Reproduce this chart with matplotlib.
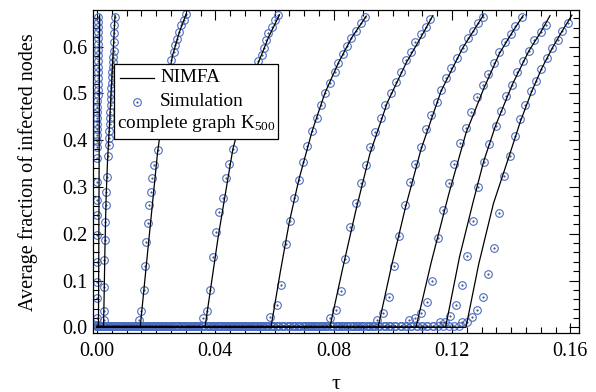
import matplotlib
matplotlib.use("Agg")
import matplotlib.pyplot as plt
import numpy as np
from matplotlib import rcParams
from matplotlib.patches import Rectangle
from matplotlib.lines import Line2D
from matplotlib.ticker import MultipleLocator

rcParams.update({
    "font.family": "serif",
    "font.serif": ["Liberation Serif"],
    "font.size": 14.5,
    "mathtext.fontset": "custom",
    "mathtext.rm": "Liberation Serif",
    "mathtext.it": "Liberation Serif:italic",
})

# NIMFA curves (tau, fraction), one list per curve
nimfa_tau = [
    [0, 0.0005, 0.0007, 0.0009],
    [0, 0.0022, 0.0024, 0.0027, 0.0031, 0.0036, 0.0042, 0.0050, 0.0061],
    [0, 0.0146, 0.0175, 0.0205, 0.0230, 0.0255, 0.0278, 0.0301],
    [0, 0.0365, 0.0410, 0.0459, 0.0500, 0.0545, 0.0580, 0.0617],
    [0, 0.0588, 0.0620, 0.0650, 0.0682, 0.0727, 0.0770, 0.0815, 0.0860, 0.0910],
    [0, 0.0787, 0.0830, 0.0875, 0.0922, 0.0981, 0.1045, 0.1095, 0.1135],
    [0, 0.0950, 0.0995, 0.1042, 0.1095, 0.1163, 0.1236, 0.1306],
    [0, 0.1078, 0.1130, 0.1189, 0.1247, 0.1307, 0.1360, 0.1400, 0.1440],
    [0, 0.1178, 0.1225, 0.1270, 0.1307, 0.1347, 0.1403, 0.1459, 0.1499, 0.1531],
    [0, 0.1247, 0.1290, 0.1340, 0.1395, 0.1431, 0.1468, 0.1502, 0.1538, 0.1572, 0.1605],
]
nimfa_y = [
    [0, 0, 0.30, 0.667],
    [0, 0, 0.06, 0.17, 0.28, 0.36, 0.43, 0.53, 0.667],
    [0, 0, 0.185, 0.375, 0.49, 0.58, 0.63, 0.669],
    [0, 0, 0.195, 0.38, 0.48, 0.565, 0.62, 0.668],
    [0, 0, 0.12, 0.225, 0.315, 0.419, 0.500, 0.564, 0.618, 0.665],
    [0, 0, 0.125, 0.25, 0.37, 0.48, 0.565, 0.62, 0.666],
    [0, 0, 0.13, 0.255, 0.38, 0.505, 0.597, 0.667],
    [0, 0, 0.14, 0.285, 0.415, 0.51, 0.585, 0.627, 0.666],
    [0, 0, 0.15, 0.265, 0.355, 0.431, 0.518, 0.590, 0.630, 0.666],
    [0, 0, 0.135, 0.265, 0.37, 0.44, 0.502, 0.552, 0.596, 0.633, 0.667],
]

# simulation points above the flat part
sim_tau = [
    [0.0000, 0.0000, 0.0000, 0.0001, 0.0001, 0.0001, 0.0001, 0.0001, 0.0001, 0.0001, 0.0001,
     0.0001, 0.0001, 0.0001, 0.0001, 0.0001, 0.0001, 0.0001, 0.0001, 0.0002, 0.0002, 0.0002,
     0.0002, 0.0002, 0.0002, 0.0002, 0.0002, 0.0003, 0.0003, 0.0003, 0.0003, 0.0003, 0.0003, 0.0003],
    [0.00225, 0.00225, 0.00237, 0.00248, 0.00259, 0.00282, 0.00304, 0.00315, 0.00338, 0.00372, 0.00394,
     0.0041, 0.0042, 0.0043, 0.0044, 0.0045, 0.0046, 0.0047, 0.0048, 0.0049, 0.0050,
     0.0051, 0.0052, 0.0053, 0.0054, 0.0055, 0.0056, 0.0057, 0.0058, 0.0059, 0.0060],
    [0.0141, 0.0150, 0.0158, 0.0161, 0.0166, 0.0171, 0.0177, 0.0181, 0.0187, 0.0192, 0.0205,
     0.0213, 0.0221, 0.0229, 0.0237, 0.0244,
     0.0251, 0.0259, 0.0265, 0.0270, 0.0278, 0.0285, 0.0293, 0.0301],
    [0.0359, 0.0371, 0.0382, 0.0391, 0.0402, 0.0413, 0.0425, 0.0436, 0.0447, 0.0459,
     0.0470, 0.0481, 0.0492, 0.0503, 0.0514, 0.0525, 0.0535,
     0.0545, 0.0557, 0.0565, 0.0571, 0.0579, 0.0591, 0.0602, 0.0613],
    [0.0585, 0.0610, 0.0621, 0.0638, 0.0651, 0.0666, 0.0682, 0.0696, 0.0711, 0.0727, 0.0744,
     0.0756, 0.0770, 0.0787, 0.0804, 0.0815, 0.0832, 0.0846, 0.0860, 0.0877, 0.0891, 0.0907],
    [0.0787, 0.0807, 0.0823, 0.0839, 0.0854, 0.0875, 0.0891, 0.0908, 0.0922, 0.0941, 0.0959,
     0.0973, 0.0994, 0.1011, 0.1028, 0.1045, 0.1062, 0.1076, 0.1095, 0.1112, 0.1127],
    [0.0948, 0.0968, 0.0988, 0.1004, 0.1022, 0.1041, 0.1059, 0.1076, 0.1095, 0.1112, 0.1129,
     0.1149, 0.1163, 0.1180, 0.1197, 0.1216, 0.1236, 0.1253, 0.1272, 0.1287, 0.1304],
    [0.1056, 0.1075, 0.1094, 0.1115, 0.1132, 0.1151, 0.1171, 0.1189, 0.1208, 0.1227, 0.1247,
     0.1264, 0.1284, 0.1305, 0.1322, 0.1341, 0.1360, 0.1378, 0.1400, 0.1414, 0.1437],
    [0.1160, 0.1176, 0.1193, 0.1212, 0.1233, 0.1250, 0.1270, 0.1288, 0.1307, 0.1326, 0.1347,
     0.1366, 0.1383, 0.1403, 0.1420, 0.1440, 0.1459, 0.1478, 0.1499, 0.1516],
    [0.1233, 0.1250, 0.1267, 0.1285, 0.1303, 0.1322, 0.1341, 0.1358, 0.1377, 0.1395, 0.1412,
     0.1431, 0.1448, 0.1468, 0.1484, 0.1502, 0.1521, 0.1538, 0.1557, 0.1572, 0.1592],
]
sim_y = [
    [0.005, 0.019, 0.062, 0.097, 0.140, 0.197, 0.240, 0.272, 0.311, 0.361, 0.386,
     0.398, 0.410, 0.423, 0.435, 0.447, 0.459, 0.471, 0.484, 0.496, 0.508, 0.520,
     0.532, 0.545, 0.557, 0.569, 0.581, 0.593, 0.606, 0.618, 0.630, 0.642, 0.653, 0.664],
    [0.016, 0.035, 0.087, 0.144, 0.187, 0.226, 0.261, 0.290, 0.322, 0.365, 0.390,
     0.405, 0.420, 0.435, 0.448, 0.461, 0.474, 0.487, 0.499, 0.511, 0.523,
     0.534, 0.545, 0.556, 0.567, 0.578, 0.590, 0.610, 0.628, 0.646, 0.664],
    [0.016, 0.035, 0.080, 0.130, 0.183, 0.222, 0.261, 0.290, 0.318, 0.347, 0.379,
     0.410, 0.445, 0.480, 0.510, 0.540,
     0.571, 0.589, 0.603, 0.617, 0.632, 0.646, 0.657, 0.669],
    [0.019, 0.035, 0.080, 0.151, 0.204, 0.247, 0.277, 0.318, 0.350, 0.382,
     0.410, 0.440, 0.465, 0.490, 0.510, 0.530, 0.550,
     0.568, 0.582, 0.596, 0.614, 0.628, 0.642, 0.657, 0.667],
    [0.023, 0.048, 0.090, 0.177, 0.227, 0.277, 0.315, 0.354, 0.388, 0.419, 0.447,
     0.474, 0.500, 0.521, 0.545, 0.564, 0.583, 0.602, 0.618, 0.633, 0.650, 0.662],
    [0.019, 0.037, 0.078, 0.147, 0.215, 0.265, 0.308, 0.347, 0.386, 0.417, 0.447,
     0.476, 0.500, 0.525, 0.546, 0.571, 0.589, 0.609, 0.626, 0.642, 0.659],
    [0.016, 0.031, 0.065, 0.132, 0.195, 0.261, 0.311, 0.348, 0.386, 0.424, 0.454,
     0.481, 0.507, 0.532, 0.555, 0.576, 0.597, 0.618, 0.634, 0.650, 0.664],
    [0.016, 0.020, 0.030, 0.054, 0.100, 0.190, 0.251, 0.308, 0.350, 0.393, 0.426,
     0.459, 0.493, 0.518, 0.541, 0.565, 0.589, 0.609, 0.627, 0.644, 0.662],
    [0.012, 0.012, 0.024, 0.047, 0.090, 0.152, 0.227, 0.300, 0.354, 0.391, 0.431,
     0.462, 0.495, 0.518, 0.546, 0.568, 0.590, 0.614, 0.630, 0.647],
    [0.012, 0.012, 0.023, 0.037, 0.065, 0.113, 0.170, 0.245, 0.324, 0.366, 0.409,
     0.445, 0.475, 0.505, 0.526, 0.553, 0.575, 0.596, 0.614, 0.633, 0.650],
]

# flat (sub-threshold) part of each simulation: end of flat part, tau step, level
base_end = [0.0, 0.0021, 0.0138, 0.0352, 0.0575, 0.0775, 0.0935, 0.1045, 0.1150, 0.1225]
base_step = [0.0001, 0.0002, 0.0006, 0.0011, 0.0015, 0.0017, 0.0018, 0.0019, 0.0018, 0.0018]
base_level = [0.003, 0.003, 0.002, 0.003, 0.003, 0.002, 0.003, 0.002, 0.003, 0.003]

x_ticks = [0.00, 0.04, 0.08, 0.12, 0.16]
x_tick_labels = ["0.00", "0.04", "0.08", "0.12", "0.16"]
y_ticks = [0.0, 0.1, 0.2, 0.3, 0.4, 0.5, 0.6]
y_tick_labels = ["0.0", "0.1", "0.2", "0.3", "0.4", "0.5", "0.6"]

blue = "#4b6cc1"
dot = "#2a3350"

fig = plt.figure(figsize=(5.96, 3.92), dpi=100)
ax = fig.add_axes([0.1555, 0.1497, 0.816, 0.8248])

for t, y in zip(nimfa_tau, nimfa_y):
    ax.plot(t, y, color="k", lw=0.9, zorder=3)

for i in range(len(sim_tau)):
    t0 = np.arange(0, base_end[i], base_step[i])
    t = np.concatenate([t0, sim_tau[i]])
    y = np.concatenate([np.full(len(t0), base_level[i]), sim_y[i]])
    ax.plot(t, y, "o", ms=5.5, mfc="none", mec=blue, mew=0.8, zorder=2)
    ax.plot(t, y, ".", ms=1.0, color=dot, zorder=2.5)

ax.set_xlim(-0.00145, 0.1629)
ax.set_ylim(-0.0128, 0.678)
ax.set_xticks(x_ticks)
ax.set_xticklabels(x_tick_labels)
ax.set_yticks(y_ticks)
ax.set_yticklabels(y_tick_labels)
ax.xaxis.set_minor_locator(MultipleLocator(0.005))
ax.yaxis.set_minor_locator(MultipleLocator(0.02))
ax.tick_params(which="both", direction="in", top=True, right=True, width=0.8)
ax.tick_params(which="major", length=7)
ax.tick_params(which="minor", length=4)
ax.tick_params(axis="x", pad=6)
ax.tick_params(axis="y", pad=4)
for s in ax.spines.values():
    s.set_linewidth(0.9)

ax.set_xlabel("τ", fontsize=16, labelpad=10)
ax.set_ylabel("Average fraction of infected nodes", labelpad=17)

# legend box
ax.add_patch(Rectangle((0.0432, 0.601), 0.3372, 0.231, transform=ax.transAxes,
                       facecolor="white", edgecolor="k", lw=0.9, zorder=5))
ax.add_line(Line2D([0.0567, 0.1255], [0.791, 0.791], transform=ax.transAxes,
                   color="k", lw=0.9, zorder=6))
ax.add_line(Line2D([0.0911], [0.716], transform=ax.transAxes, marker="o", ms=5.5,
                   mfc="none", mec=blue, mew=0.8, lw=0, zorder=6))
ax.add_line(Line2D([0.0911], [0.716], transform=ax.transAxes, marker=".", ms=1.0,
                   color=dot, lw=0, zorder=6))
ax.text(0.1389, 0.792, "NIMFA", transform=ax.transAxes, va="center", ha="left",
        fontsize=13.8, zorder=6)
ax.text(0.1389, 0.716, "Simulation", transform=ax.transAxes, va="center", ha="left",
        fontsize=13.8, zorder=6)
ax.text(0.050, 0.650, "complete graph K$_{500}$", transform=ax.transAxes, va="center",
        ha="left", fontsize=13.8, zorder=6)

fig.savefig("out.png", dpi=100)
